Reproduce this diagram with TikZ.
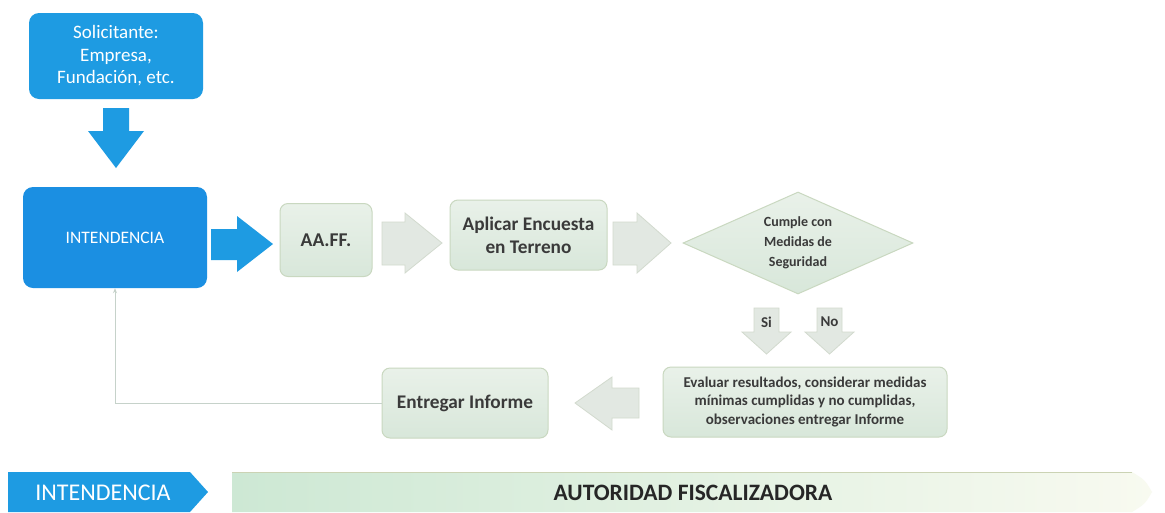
\documentclass[tikz,border=0pt]{standalone}
\usepackage{fontspec}
\setmainfont{Carlito}
\usetikzlibrary{shapes.geometric,arrows.meta,calc}
\definecolor{blueA}{HTML}{1E9BE2}
\definecolor{blueB}{HTML}{1B8FE2}
\definecolor{boxtop}{HTML}{E9F1E9}
\definecolor{boxbot}{HTML}{D8E7DA}
\definecolor{boxline}{HTML}{C9D8C0}
\definecolor{arrfill}{HTML}{E2E8E2}
\definecolor{arrline}{HTML}{D2DACE}
\definecolor{txt}{HTML}{3A3A3A}
\definecolor{fbline}{HTML}{C6D2CA}
\definecolor{banL}{HTML}{CDE8D4}
\definecolor{banR}{HTML}{F8FAF0}
\definecolor{banline}{HTML}{CBD3B4}
\tikzset{
  bluebox/.style={draw=none, rounded corners=10pt, align=center, text=white, inner sep=0pt},
  greenbox/.style={draw=boxline, line width=1pt, rounded corners=8pt, top color=boxtop, bottom color=boxbot, align=center, text=txt, inner sep=0pt, font=\bfseries},
  bluearr/.style={fill=blueA, draw=none},
  grayarr/.style={fill=arrfill, draw=arrline, line width=0.8pt},
  fb/.style={draw=fbline, line width=1pt, -{Stealth[length=5pt,width=4pt]}},
}
\begin{document}
\begin{tikzpicture}[x=1pt,y=-1pt]
\useasboundingbox (0,0) rectangle (1165,512);
\fill[white] (0,0) rectangle (1165,512);

% nodes
\node[bluebox, fill=blueA, minimum width=174pt, minimum height=86pt, font=\fontsize{19}{22.5}\selectfont] (sol) at (116,56) {Solicitante:\\Empresa,\\Fundación, etc.};
\node[bluebox, fill=blueB, minimum width=184pt, minimum height=101pt, font=\fontsize{17.5}{20}\selectfont] (int) at (115,237.5) {INTENDENCIA};
\node[greenbox, minimum width=92pt, minimum height=73pt, font=\bfseries\fontsize{19.5}{22}\selectfont] (aaff) at (326,240) {AA.FF.};
\node[greenbox, minimum width=157pt, minimum height=70pt, font=\bfseries\fontsize{19.3}{23}\selectfont] (apl) at (528.5,235) {Aplicar Encuesta\\en Terreno};
\node[diamond, draw=boxline, line width=1pt, top color=boxtop, bottom color=boxbot, aspect=2.3, minimum width=230pt, minimum height=102pt, inner sep=0pt, align=center, text=txt, font=\bfseries\fontsize{14}{20}\selectfont] (dec) at (798,243) {Cumple con\\Medidas de\\Seguridad};
\node[greenbox, minimum width=284pt, minimum height=70pt, font=\bfseries\fontsize{15}{18.5}\selectfont] (eval) at (805,402) {Evaluar resultados, considerar medidas\\mínimas cumplidas y no cumplidas,\\observaciones entregar Informe};
\node[greenbox, minimum width=166pt, minimum height=70pt, font=\bfseries\fontsize{19.3}{22}\selectfont] (inf) at (465,403) {Entregar Informe};

% block arrows
\path[bluearr] (103,108) -- (129,108) -- (129,131) -- (144,131) -- (116,168) -- (88,131) -- (103,131) -- cycle;
\path[bluearr] (211,229) -- (237,229) -- (237,216) -- (273,244) -- (237,272) -- (237,260) -- (211,260) -- cycle;
\path[grayarr] (382,222) -- (405,222) -- (405,213) -- (442,243) -- (405,273) -- (405,265) -- (382,265) -- cycle;
\path[grayarr] (613,222) -- (637,222) -- (637,213) -- (671,243) -- (637,273) -- (637,265) -- (613,265) -- cycle;
\path[grayarr] (754,308) -- (779,308) -- (779,332) -- (791,332) -- (766.5,354) -- (742,332) -- (754,332) -- cycle;
\path[grayarr] (817,308) -- (842,308) -- (842,332) -- (854,332) -- (829.5,354) -- (805,332) -- (817,332) -- cycle;
\path[grayarr] (575,403) -- (612,377) -- (612,388) -- (639,388) -- (639,418) -- (612,418) -- (612,430) -- cycle;
\node[text=txt, font=\bfseries\fontsize{15}{16}\selectfont] (si) at (766.5,322) {Si};
\node[text=txt, font=\bfseries\fontsize{15}{16}\selectfont] (no) at (829.5,322) {No};

% feedback connector
\draw[fb] (inf.west) -| (int.south);

% bottom banners
\path[fill=blueA] (8,472) -- (190,472) -- (208,492) -- (190,512) -- (8,512) -- cycle;
\node[text=white, font=\fontsize{24}{26}\selectfont] (bint) at (103,493) {INTENDENCIA};
\path[left color=banL, right color=banR] (232,472) -- (1132,472) .. controls (1145,480) .. (1152,492) .. controls (1145,504) .. (1132,512) -- (232,512) -- cycle;
\draw[banline, line width=1pt] (232,472) -- (1132,472);
\node[text=black!85, font=\bfseries\fontsize{23.5}{26}\selectfont] (auth) at (693,493) {AUTORIDAD FISCALIZADORA};
\end{tikzpicture}
\end{document}
